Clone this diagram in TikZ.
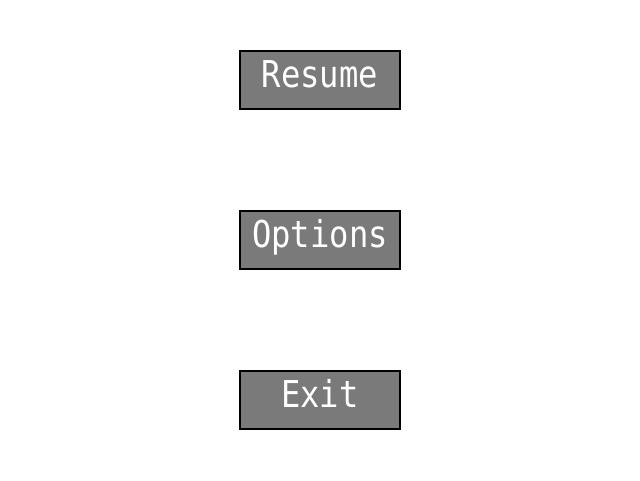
\documentclass[tikz,border=0pt]{standalone}
\usepackage{fontspec}
\newfontfamily\menufont[FakeStretch=0.87]{DejaVu Sans Mono}
\usepackage{tikz}
\definecolor{btngray}{RGB}{122,122,122}
\tikzset{
    menubutton/.style={draw=black, line width=2pt, fill=btngray, text=white,
        minimum width=160pt, minimum height=58pt, inner sep=0pt,
        text height=27pt, text depth=12pt, font=\menufont\fontsize{37}{37}\selectfont}
}

\begin{document}
\begin{tikzpicture}[x=1pt,y=1pt]
    \useasboundingbox (0,0) rectangle (640,480);

    % nodes (buttons)
    \node[menubutton] (resume) at (320,400) {Resume};
    \node[menubutton] (options) at (320,240) {Options};
    \node[menubutton] (exit) at (320,80) {Exit};

\end{tikzpicture}
\end{document}
